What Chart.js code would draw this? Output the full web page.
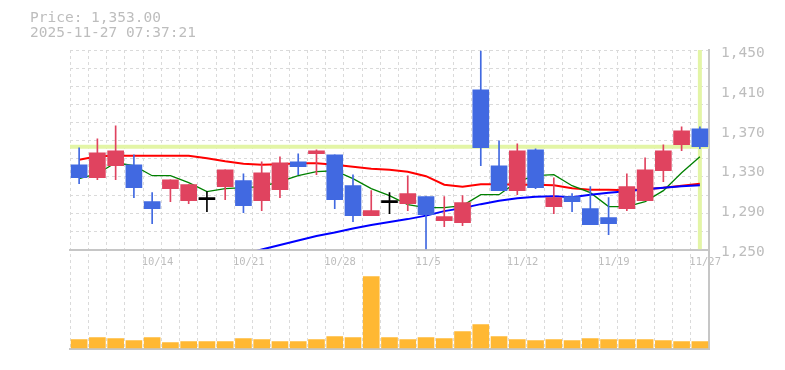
<!DOCTYPE html>
<html>
<head>
<meta charset="utf-8">
<script src="https://cdn.jsdelivr.net/npm/chart.js@4.4.1/dist/chart.umd.min.js"></script>
<style>
  html, body { margin: 0; padding: 0; background: #fff; }
  #wrap { width: 785px; height: 370px; }
</style>
</head>
<body>
<div id="wrap"><canvas id="priceChart"></canvas></div>
<script>
// ==========================================================================
// Daily candles + moving averages + volume
// ==========================================================================

const dates = ['10/7', '10/8', '10/9', '10/10', '10/14', '10/15', '10/16', '10/17', '10/20', '10/21',
  '10/22', '10/23', '10/24', '10/27', '10/28', '10/29', '10/30', '10/31', '11/4', '11/5',
  '11/6', '11/7', '11/10', '11/11', '11/12', '11/13', '11/14', '11/17', '11/18', '11/19',
  '11/20', '11/21', '11/25', '11/26', '11/27'];
const shownDates = ['10/14', '10/21', '10/28', '11/5', '11/12', '11/19', '11/27'];

const opens = [1335, 1322, 1334, 1335, 1298, 1311, 1299, 1300, 1313, 1319, 1299, 1310, 1338, 1346, 1345, 1314, 1284, 1297,
  1296, 1303, 1279, 1277, 1410, 1334, 1309, 1350, 1293, 1303, 1291, 1282, 1291, 1299, 1329, 1355, 1371];
const highs = [1352, 1361, 1374, 1345, 1307, 1320, 1315, 1308, 1330, 1326, 1338, 1343, 1346, 1350, 1345, 1325, 1309, 1307,
  1324, 1303, 1303, 1304, 1449, 1359, 1356, 1351, 1322, 1306, 1313, 1302, 1326, 1342, 1355, 1373, 1373];
const lows = [1316, 1320, 1320, 1302, 1276, 1298, 1296, 1288, 1300, 1287, 1289, 1302, 1325, 1325, 1291, 1278, 1284, 1286,
  1289, 1250, 1273, 1274, 1334, 1309, 1305, 1311, 1286, 1288, 1275, 1265, 1289, 1299, 1318, 1349, 1351];
const closes = [1322, 1347, 1349, 1312, 1291, 1320, 1315, 1300, 1330, 1294, 1327, 1337, 1333, 1349, 1300, 1284, 1289, 1297,
  1306, 1285, 1283, 1297, 1352, 1309, 1349, 1312, 1302, 1298, 1275, 1276, 1313, 1330, 1349, 1369, 1353];

const ma5 = [1321, 1326, 1337, 1334, 1324, 1324, 1317, 1308, 1311, 1312, 1313, 1318, 1324, 1328, 1329, 1321, 1311, 1304,
  1295, 1292, 1292, 1294, 1305, 1305, 1318, 1324, 1325, 1314, 1307, 1293, 1293, 1298, 1309, 1327, 1343];
const ma25 = [1340, 1343.5, 1344, 1344, 1344, 1344, 1344, 1341.5, 1338.5, 1336, 1335, 1335.5, 1336.5, 1336.5, 1335, 1333,
  1331, 1330, 1328, 1323.5, 1315, 1313, 1315.5, 1315.5, 1315, 1315, 1314.5, 1311.5, 1310, 1310, 1309.5, 1310.5, 1312, 1314, 1316];
const ma75 = [null, null, null, null, null, null, null, null, null, 1245, 1250, 1254.5, 1259, 1263.5, 1267, 1271, 1274.5,
  1277.5, 1280.5, 1284, 1288.5, 1291.5, 1295.5, 1299, 1301.5, 1303, 1303.5, 1302.5, 1305, 1307, 1308.5, 1310.5, 1312, 1313.5, 1314.5];

const volumes = [83, 103, 93, 73, 103, 53, 63, 63, 63, 93, 83, 63, 63, 83, 113, 103, 713, 103, 83, 103, 93, 163, 233, 113,
  83, 73, 83, 73, 93, 83, 83, 83, 73, 63, 63];

const priceLabels = [1250, 1290, 1330, 1370, 1410, 1450];
const timestamp = '2025-11-27 07:37:21';

// --- look ---
const FONT = "'DejaVu Sans Mono', monospace";
const TEXT = '#bdbdbd';
const GRID = '#dadada';
const AXIS = '#c6c6c6';
const UP = '#e0435f';
const DOWN = '#4169e1';
const DOJI = '#000000';
const LAST = '#e3f5a6';

const priceMin = priceLabels[0];
const priceMax = priceLabels[priceLabels.length - 1];
const gridSteps = 11;
const lastIndex = closes.length - 1;
const lastPrice = closes[lastIndex];

function candleColor(i) {
  if (closes[i] > opens[i]) return UP;
  if (closes[i] < opens[i]) return DOWN;
  return DOJI;
}
const colors = closes.map((c, i) => candleColor(i));

function isGridValue(v) {
  const k = (v - priceMin) / ((priceMax - priceMin) / gridSteps);
  return Math.abs(k - Math.round(k)) < 1e-6;
}

// price marks stay in the upper band, volume lives in the lower third
const priceClip = { left: 0, top: 0, right: 0, bottom: -100 };

const lineBase = { type: 'line', xAxisID: 'x', yAxisID: 'y', pointRadius: 0, tension: 0, fill: false, clip: priceClip };

new Chart(document.getElementById('priceChart'), {
  type: 'bar',
  data: {
    labels: dates,
    datasets: [
      {
        label: 'body', data: opens.map((o, i) => [o, closes[i]]),
        backgroundColor: colors, barThickness: 16, grouped: false, minBarLength: 2,
        xAxisID: 'x', yAxisID: 'y', order: 0, clip: priceClip
      },
      {
        label: 'wick', data: lows.map((l, i) => [l, highs[i]]),
        backgroundColor: colors, barThickness: 1, grouped: false,
        xAxisID: 'x', yAxisID: 'y', order: 1, clip: priceClip
      },
      { ...lineBase, label: 'MA75', data: ma75, borderColor: '#0000ff', borderWidth: 2, order: 2 },
      { ...lineBase, label: 'MA5', data: ma5, borderColor: '#008000', borderWidth: 1.3, order: 3 },
      { ...lineBase, label: 'MA25', data: ma25, borderColor: '#ff0000', borderWidth: 2, order: 4 },
      {
        ...lineBase, label: 'last price', xAxisID: 'xl',
        data: [{ x: -0.5, y: lastPrice }, { x: lastIndex + 0.5, y: lastPrice }],
        borderColor: LAST, borderWidth: 4, order: 5
      },
      {
        ...lineBase, label: 'last day', xAxisID: 'xl',
        data: [{ x: lastIndex, y: priceMax }, { x: lastIndex, y: priceMin }],
        borderColor: LAST, borderWidth: 4, order: 5
      },
      {
        label: 'volume', data: volumes, backgroundColor: '#ffb833',
        barThickness: 16, grouped: false, xAxisID: 'x', yAxisID: 'yv', order: 6
      }
    ]
  },
  options: {
    responsive: true,
    maintainAspectRatio: false,
    animation: false,
    layout: { padding: { left: 30, right: 0, top: 0, bottom: 20 } },
    plugins: {
      legend: { display: false },
      tooltip: { enabled: false },
      title: {
        display: true,
        align: 'start',
        text: ['Price: ' + lastPrice.toLocaleString('en-US', { minimumFractionDigits: 2 }), timestamp],
        color: TEXT,
        font: { family: FONT, size: 14.5, weight: 'normal', lineHeight: 1.035 },
        padding: { top: 11, bottom: 9 }
      }
    },
    scales: {
      x: {
        type: 'category',
        position: { y: priceMin },
        offset: true,
        grid: { color: GRID, lineWidth: 1, offset: true, drawTicks: false },
        border: { display: true, color: AXIS, width: 2, dash: [3, 3] },
        ticks: {
          autoSkip: false, maxRotation: 0, color: TEXT, padding: 6,
          align: 'start', labelOffset: -10.5,
          font: { family: FONT, size: 10.5 },
          callback: (value, index) => shownDates.includes(dates[index]) ? dates[index] : ''
        },
        afterFit: (s) => { s.height = 0; }
      },
      xl: {
        type: 'linear',
        position: 'bottom',
        offset: false,
        min: -0.5,
        max: lastIndex + 0.5,
        grid: { display: false, offset: false },
        ticks: { display: false },
        border: { display: true, color: AXIS, width: 2 },
        afterFit: (s) => { s.height = 0; }
      },
      y: {
        type: 'linear',
        position: 'right',
        min: priceMin - (priceMax - priceMin) / 2,
        max: priceMax,
        afterBuildTicks: (scale) => {
          const vals = new Set(priceLabels);
          for (let k = 0; k <= gridSteps; k++) {
            vals.add(+(priceMin + k * (priceMax - priceMin) / gridSteps).toFixed(6));
          }
          scale.ticks = [...vals].sort((a, b) => a - b).map(v => ({ value: v }));
        },
        grid: {
          color: (ctx) => ctx.tick && isGridValue(ctx.tick.value) ? GRID : 'rgba(0,0,0,0)',
          drawTicks: false
        },
        border: { display: true, color: AXIS, width: 2, dash: [3, 3] },
        ticks: {
          autoSkip: false, color: TEXT, padding: 12, labelOffset: 3,
          font: { family: FONT, size: 14.5 },
          callback: (v) => priceLabels.includes(v) ? v.toLocaleString('en-US') : ''
        },
        afterFit: (s) => { s.width = 76; }
      },
      yv: {
        type: 'linear',
        position: 'left',
        min: -15,
        max: 2985,
        grid: { display: false },
        ticks: { display: false },
        border: { display: false },
        afterFit: (s) => { s.width = 40; }
      }
    }
  }
});
</script>
</body>
</html>
